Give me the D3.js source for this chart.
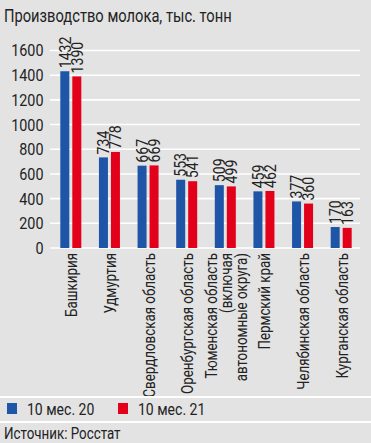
<!DOCTYPE html>
<html>
<head>
<meta charset="utf-8">
<script src="https://cdn.jsdelivr.net/npm/d3@7"></script>
<style>
  html, body { margin: 0; padding: 0; background: #e3e3e3; }
  svg { display: block; font-family: "Roboto", sans-serif; }
</style>
</head>
<body>
<div id="chart"></div>
<script>
// data
var regions = [
  ["Башкирия"],
  ["Удмуртия"],
  ["Свердловская область"],
  ["Оренбургская область"],
  ["Тюменская область", "(включая", "автономные округа)"],
  ["Пермский край"],
  ["Челябинская область"],
  ["Курганская область"]
];
var seriesNames = ["10 мес. 20", "10 мес. 21"];
var values2020 = [1432, 734, 667, 553, 509, 459, 377, 170];
var values2021 = [1390, 778, 669, 541, 499, 462, 360, 163];
var yTicks = [0, 200, 400, 600, 800, 1000, 1200, 1400, 1600];
var colors = ["#1f55a6", "#e2001a"];

var W = 371, H = 443;
var svg = d3.select("#chart").append("svg")
    .attr("width", W).attr("height", H);

svg.append("rect").attr("width", W).attr("height", H).attr("fill", "#e3e3e3");

// the original uses a condensed face, so squeeze Roboto along the text direction
function label(g, x, y, size, narrow, txt, rot) {
  return g.append("text")
    .attr("transform", "translate(" + x + "," + y + ")" + (rot ? " rotate(-90)" : "") + " scale(" + narrow + ",1)")
    .attr("font-size", size)
    .attr("fill", "#222")
    .text(txt);
}

label(svg, 4, 22, 17.5, 0.84, "Производство молока, тыс. тонн");

var keys = regions.map(function(d, i) { return "r" + i; });
var x = d3.scaleBand().domain(keys).range([52, 361]);
var xs = d3.scaleBand().domain([0, 1]).range([-11, 10]).paddingInner(0.25);
var y = d3.scaleLinear().domain([0, 1600]).range([248, 50.5]);

// grid
svg.append("g").selectAll("line")
  .data(yTicks)
  .enter().append("line")
    .attr("x1", 50).attr("x2", 360)
    .attr("y1", function(d) { return y(d); })
    .attr("y2", function(d) { return y(d); })
    .attr("stroke", "#fff").attr("stroke-width", 1.6);

// y labels
var yg = svg.append("g");
yTicks.forEach(function(t) {
  label(yg, 43.5, y(t), 16.5, 0.87, t).attr("dy", "0.36em").attr("text-anchor", "end");
});

var rows = [];
keys.forEach(function(k, i) {
  rows.push({ k: k, s: 0, v: values2020[i] });
  rows.push({ k: k, s: 1, v: values2021[i] });
});
function cx(d) { return x(d.k) + x.bandwidth() / 2; }

svg.append("g").selectAll("rect")
  .data(rows)
  .enter().append("rect")
    .attr("x", function(d) { return cx(d) + xs(d.s); })
    .attr("width", xs.bandwidth())
    .attr("y", function(d) { return y(d.v); })
    .attr("height", function(d) { return y(0) - y(d.v); })
    .attr("fill", function(d) { return colors[d.s]; });

// value labels
var vg = svg.append("g");
rows.forEach(function(d) {
  label(vg, cx(d) + xs(d.s) + xs.bandwidth() / 2, y(d.v) - 3, 16, 0.88, d.v, true)
    .attr("dy", "0.36em");
});

// category labels
var cg = svg.append("g");
regions.forEach(function(lines, i) {
  var c = x(keys[i]) + x.bandwidth() / 2;
  lines.forEach(function(line, j) {
    label(cg, c + (j - (lines.length - 1) / 2) * 15, 253, 16.5, 0.81, line, true)
      .attr("dy", "0.36em").attr("text-anchor", "end");
  });
});

// separators
[397, 422].forEach(function(yy) {
  svg.append("line").attr("x1", 0).attr("x2", W)
    .attr("y1", yy).attr("y2", yy)
    .attr("stroke", "#fff").attr("stroke-width", 2);
});

// legend
var legX = [7, 118];
seriesNames.forEach(function(name, i) {
  svg.append("rect").attr("x", legX[i]).attr("y", 403)
    .attr("width", 10).attr("height", 11).attr("fill", colors[i]);
  label(svg, legX[i] + 20, 414.5, 16.5, 0.85, name);
});

label(svg, 4, 438.5, 16.5, 0.81, "Источник: Росстат");
</script>
</body>
</html>
